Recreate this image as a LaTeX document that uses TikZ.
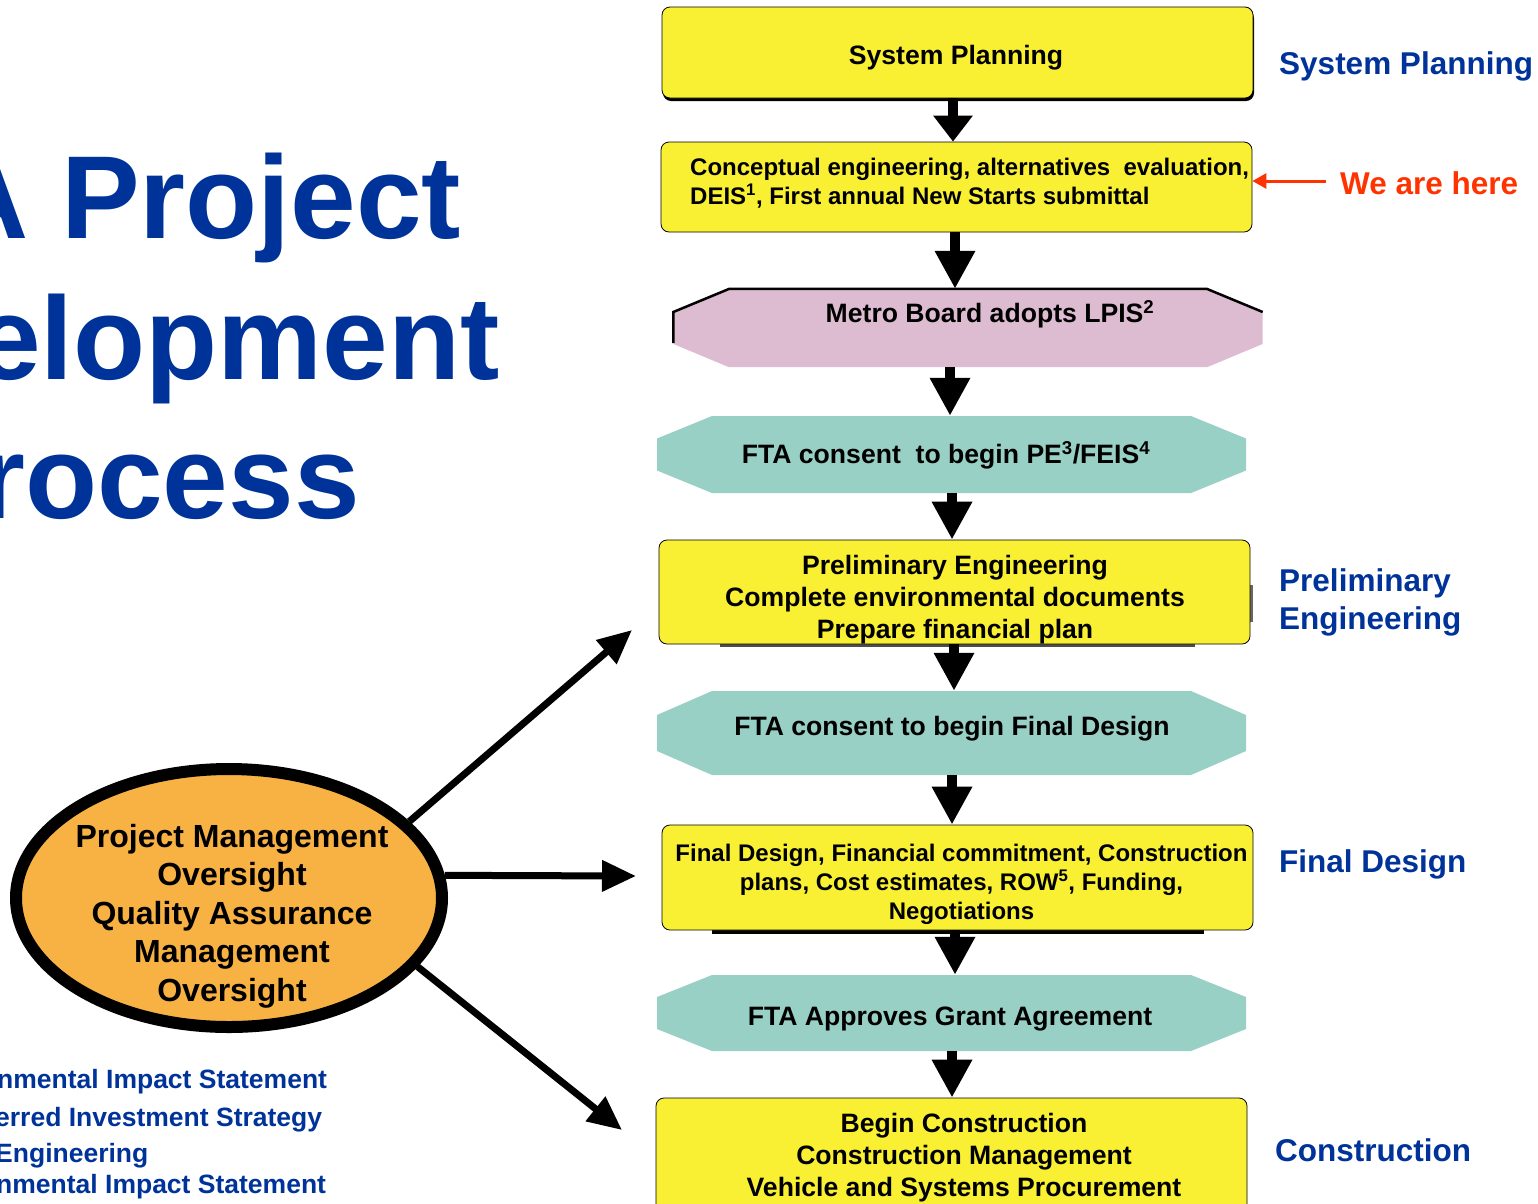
\documentclass[tikz,border=0pt]{standalone}
\usepackage{fontspec}
\setmainfont{Liberation Sans}
\usetikzlibrary{arrows.meta,shapes.geometric,shadows}
\definecolor{yboxc}{RGB}{249,240,51}
\definecolor{tealc}{RGB}{153,208,197}
\definecolor{pinkc}{RGB}{221,187,209}
\definecolor{orangec}{RGB}{248,178,67}
\definecolor{bluec}{RGB}{0,51,153}
\definecolor{redc}{RGB}{255,51,0}
\newcommand\fsz[2]{\fontsize{#1pt}{#2pt}\selectfont\bfseries}
\tikzset{
  yb/.style={draw=black, line width=0.8pt, fill=yboxc, rounded corners=8pt, minimum width=591pt, inner sep=0pt},
  hexbox/.style 2 args={minimum width=589pt, inner sep=0pt,
    path picture={\fill[#1] ([xshift=55pt]path picture bounding box.north west) -- ([xshift=-55pt]path picture bounding box.north east) -- ([yshift=#2]path picture bounding box.east) -- ([yshift=-#2]path picture bounding box.east) -- ([xshift=-55pt]path picture bounding box.south east) -- ([xshift=55pt]path picture bounding box.south west) -- ([yshift=-#2]path picture bounding box.west) -- ([yshift=#2]path picture bounding box.west) -- cycle;}},
  btxt/.style={inner sep=0pt, align=center, font=\fsz{26.6}{32}},
  stxt/.style={inner sep=0pt, align=center, font=\fsz{24}{29}},
  darr/.style={line width=10pt, -{Triangle[length=38pt,width=38pt]}},
  darrs/.style={line width=10pt, -{Triangle[length=26pt,width=38pt]}},
  pmarr/.style={line width=7pt, -{Triangle[length=34pt,width=30pt]}},
  redarr/.style={draw=redc, line width=3pt, -{Triangle[length=14pt,width=15pt]}},
  lbl/.style={anchor=west, inner sep=0pt, text=bluec, font=\fsz{31.5}{38}, align=left},
  ttl/.style={anchor=base west, inner sep=0pt, text=bluec, font=\fsz{118}{120}},
  fnote/.style={anchor=base west, inner sep=0pt, text=bluec, font=\fsz{26.5}{30}},
}
\begin{document}
\begin{tikzpicture}[x=1pt,y=-1pt]
\useasboundingbox (0,0) rectangle (1538,1203);
\clip (0,0) rectangle (1538,1203);

% title fragments
\node[ttl] (t1) at (-57,238) {A Project};
\node[ttl] (t2) at (-25,379) {elopment};
\node[ttl] (t3) at (-21,518) {rocess};

% flow boxes
\node[yb, minimum height=91pt,
  drop shadow={shadow xshift=1pt, shadow yshift=-3pt, fill=black, opacity=1}] (sp) at (957.5,52.5) {};
\node[btxt] (spt) at (956,57.5) {System Planning};

\node[yb, minimum height=90pt] (ce) at (956.5,187) {};
\node[anchor=west, align=left, inner sep=0pt, font=\fsz{24}{29}] (cet) at (690,183.5)
  {Conceptual engineering, alternatives~ evaluation,\\DEIS\textsuperscript{1}, First annual New Starts submittal};

\node[hexbox={pinkc}{16pt}, minimum height=78pt] (mb) at (968,328) {};
\draw[line width=2.5pt] ([yshift=-15pt]mb.west) -- ([yshift=16pt]mb.west) -- ([xshift=56pt]mb.north west) -- ([xshift=-56pt]mb.north east) -- ([yshift=16pt]mb.east);
\node[btxt] (mbt) at (990,314) {Metro Board adopts LPIS\textsuperscript{2}};

\node[hexbox={tealc}{16pt}, minimum height=77pt] (f1) at (951.5,454.5) {};
\node[btxt] (f1t) at (946,455.5) {FTA consent~ to begin PE\textsuperscript{3}/FEIS\textsuperscript{4}};

\fill[black!70] (720,640) rectangle (1195,647);
\fill[black!60] (1246,585) rectangle (1253,622);
\node[yb, minimum height=104pt] (pe) at (954.5,592) {};
\node[btxt] (pet) at (955,600) {Preliminary Engineering\\Complete environmental documents\\Prepare financial plan};

\node[hexbox={tealc}{18pt}, minimum height=84pt] (f2) at (951.5,733) {};
\node[btxt] (f2t) at (952,729) {FTA consent to begin Final Design};

\fill[black] (712,924) rectangle (1204,934);
\node[yb, minimum height=105pt] (fd) at (957.5,877.5) {};
\node[stxt] (fdt) at (961.5,884)
  {Final Design, Financial commitment, Construction\\plans, Cost estimates, ROW\textsuperscript{5}, Funding,\\Negotiations};

\node[hexbox={tealc}{16pt}, minimum height=76pt] (f3) at (951.5,1013) {};
\node[btxt] (f3t) at (950,1019) {FTA Approves Grant Agreement};

\node[yb, minimum height=114pt] (con) at (951.5,1155) {};
\node[btxt] (cont) at (964,1158) {Begin Construction\\Construction Management\\Vehicle and Systems Procurement};

% vertical arrows
\coordinate (x1) at (953,0);
\coordinate (x2) at (955,0);
\coordinate (x3) at (950,0);
\coordinate (x4) at (952,0);
\coordinate (x5) at (954,0);
\coordinate (x6) at (952,0);
\coordinate (x7) at (955,0);
\coordinate (x8) at (952,0);
\draw[darrs] (sp.south -| x1) -- (ce.north -| x1);
\draw[darr] (ce.south -| x2) -- (mb.north -| x2);
\draw[darr] (mb.south -| x3) -- (f1.north -| x3);
\draw[darr] (f1.south -| x4) -- (pe.north -| x4);
\draw[darr] (pe.south -| x5) -- (f2.north -| x5);
\draw[darr] (f2.south -| x6) -- (fd.north -| x6);
\draw[darr] (fd.south -| x7) -- (f3.north -| x7);
\draw[darr] (f3.south -| x8) -- (con.north -| x8);

% right labels
\node[lbl] (lsp) at (1279,66) {System Planning};
\node[lbl] (lpe) at (1279,602) {Preliminary\\Engineering};
\node[lbl] (lfd) at (1279,864) {Final Design};
\node[lbl] (lcon) at (1275,1150) {Construction};

% we are here
\node[anchor=west, inner sep=0pt, text=redc, font=\fsz{31.5}{38}] (weh) at (1340,183) {We are here};
\coordinate (wa) at (1326,181);
\draw[redarr] (wa) -- (wa -| ce.east);

% oversight ellipse
\node[ellipse, draw=black, line width=12pt, fill=orangec, minimum width=426pt, minimum height=258pt, inner sep=0pt] (pm) at (229,898) {};
\node[align=center, inner sep=0pt, font=\fsz{32}{38.5}] (pmt) at (232,916)
  {Project Management\\Oversight\\Quality Assurance\\Management\\Oversight};
\coordinate (e1) at (632,630);
\coordinate (e2) at (636,876);
\coordinate (e3) at (622,1130);
\draw[pmarr] (pm.23) -- (e1);
\draw[pmarr] (pm.6) -- (e2);
\draw[pmarr] (pm.340) -- (e3);

% footnote fragments
\node[fnote] (fn1) at (-3,1088) {nmental Impact Statement};
\node[fnote] (fn2) at (-5,1126) {erred Investment Strategy};
\node[fnote] (fn3) at (-5,1162) {Engineering};
\node[fnote] (fn4) at (-4,1193) {nmental Impact Statement};
\end{tikzpicture}
\end{document}
